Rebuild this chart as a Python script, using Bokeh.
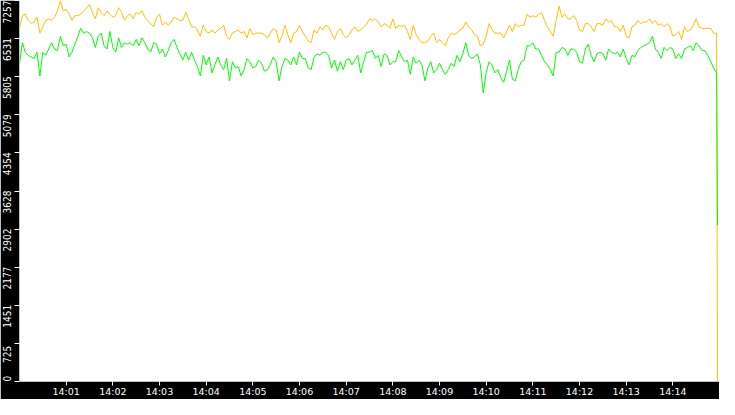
import numpy as np
from datetime import datetime
from bokeh.plotting import figure
from bokeh.models import Range1d, FixedTicker, DatetimeTickFormatter
from bokeh.embed import file_html
from bokeh.resources import INLINE

# ---- data ----
orange_vals = [
    6726, 6968, 6998, 6877, 6817, 6847, 6938, 6635, 6756, 6877, 6907, 6877, 6938, 7059, 7250, 7059, 7089, 6998, 6877, 6968,
    6968, 6998, 7059, 7119, 7180, 7028, 6907, 7119, 7028, 6968, 7059, 6998, 6938, 6968, 7119, 7028, 6877, 6968, 6998, 6907,
    7028, 6998, 7059, 6938, 6877, 6817, 6756, 6938, 6998, 6786, 6847, 6786, 6847, 6938, 6907, 6877, 6877, 7028, 6907, 6756,
    6756, 6696, 6575, 6786, 6666, 6635, 6696, 6635, 6696, 6726, 6786, 6575, 6514, 6635, 6666, 6696, 6635, 6666, 6545, 6726,
    6605, 6635, 6635, 6635, 6605, 6545, 6635, 6726, 6696, 6454, 6575, 6786, 6605, 6454, 6635, 6666, 6786, 6666, 6575, 6484,
    6454, 6696, 6635, 6756, 6696, 6786, 6756, 6635, 6514, 6666, 6726, 6605, 6545, 6605, 6696, 6756, 6666, 6696, 6756, 6805,
    6907, 6877, 6907, 6847, 6756, 6817, 6786, 6726, 6907, 6726, 6786, 6756, 6786, 6666, 6514, 6786, 6605, 6514, 6454, 6454,
    6484, 6575, 6635, 6454, 6514, 6454, 6394, 6545, 6635, 6605, 6635, 6696, 6726, 6847, 6756, 6696, 6605, 6575, 6394, 6424,
    6575, 6817, 6696, 6635, 6635, 6635, 6545, 6666, 6786, 6666, 6817, 6756, 6786, 6786, 6998, 6938, 6968, 6938, 6998, 7028,
    6877, 6756, 6666, 6575, 6877, 7149, 6938, 6998, 6907, 6907, 6968, 6877, 6696, 6666, 6817, 6817, 6756, 6666, 6817, 6817,
    6786, 6907, 6847, 6877, 6756, 6756, 6666, 6786, 6575, 6545, 6756, 6786, 6877, 6817, 6847, 6847, 6907, 6817, 6877, 6786,
    6817, 6756, 6817, 6756, 6575, 6605, 6666, 6514, 6756, 6666, 6696, 6786, 6907, 6756, 6726, 6726, 6726, 6726, 6635, 6635,
    0,
]
green_vals = [
    6061, 6454, 6272, 6212, 6182, 6152, 6272, 5819, 6272, 6212, 6333, 6454, 6333, 6303, 6575, 6394, 6424, 6182, 6272, 6424,
    6575, 6726, 6635, 6666, 6635, 6545, 6363, 6575, 6635, 6394, 6333, 6666, 6363, 6272, 6545, 6363, 6454, 6424, 6454, 6394,
    6514, 6394, 6545, 6454, 6333, 6272, 6454, 6424, 6242, 6333, 6182, 6303, 6454, 6514, 6363, 6242, 6121, 6272, 6121, 6272,
    6121, 6000, 5819, 6212, 6031, 6182, 5879, 6031, 6182, 6031, 5940, 6152, 5728, 6091, 5970, 6000, 5819, 5940, 6152, 6091,
    5970, 6000, 6121, 6061, 5910, 5940, 6031, 6182, 6091, 5728, 6000, 6152, 6121, 6031, 6182, 6031, 6272, 6152, 6152, 5970,
    5940, 6182, 6242, 6212, 6272, 6272, 6212, 5970, 6121, 5910, 6091, 5940, 6121, 6152, 6031, 6121, 6212, 5879, 6091, 6272,
    6272, 6303, 6152, 6212, 6000, 6242, 6212, 6031, 6091, 6091, 6303, 6182, 6091, 6121, 5849, 6182, 6061, 6121, 6031, 5728,
    5970, 6091, 5879, 5940, 6061, 5940, 5849, 5940, 6061, 6000, 6212, 6091, 6242, 6454, 6212, 6152, 6182, 6242, 6031, 5500,
    5879, 6091, 6031, 5879, 5940, 5789, 5698, 5910, 6121, 5758, 5728, 5940, 6091, 6121, 6394, 6394, 6454, 6333, 6333, 6212,
    6091, 6031, 5940, 5819, 6272, 6272, 6363, 6333, 6212, 6333, 6333, 6272, 6091, 6061, 6333, 6424, 6212, 6091, 6242, 6272,
    6242, 6121, 6333, 6272, 6242, 6272, 6182, 6333, 6152, 6031, 6212, 6182, 6303, 6363, 6394, 6424, 6454, 6575, 6333, 6272,
    6152, 6363, 6303, 6363, 6333, 6152, 6242, 6152, 6333, 6363, 6394, 6303, 6454, 6394, 6303, 6303, 6212, 6091, 5970, 5879,
    2975,
]
y_max = 7257
y_tick_labels = ["0", "725", "1451", "2177", "2902", "3628", "4354", "5079", "5805", "6531", "7257"]
x_tick_minutes = list(range(1, 15))

# ---- time axis ----
t0 = datetime(2024, 1, 1, 14, 0, 0).timestamp() * 1000.0
step_ms = 3750.0
n = len(orange_vals) - 1
x_ms = list(t0 + np.arange(n) * step_ms) + [t0 + 897500.0]

W, H = 719, 399
p = figure(width=W, height=H, x_axis_type="datetime", output_backend="svg",
           toolbar_location=None,
           x_range=Range1d(t0, t0 + 15 * 60000.0), y_range=Range1d(0, y_max),
           min_border_left=15, min_border_bottom=16, min_border_top=0, min_border_right=0,
           background_fill_color="white", border_fill_color="black",
           outline_line_color=None)
p.grid.visible = False

p.line(x_ms, orange_vals, line_color="#FFC000", line_width=1)
p.line(x_ms, green_vals, line_color="#00FF00", line_width=1)

# x axis
xa = p.xaxis[0]
xa.ticker = FixedTicker(ticks=[t0 + m * 60000.0 for m in x_tick_minutes])
fmt = "%H:%M"
xa.formatter = DatetimeTickFormatter(milliseconds=fmt, seconds=fmt, minsec=fmt, minutes=fmt,
                                     hourmin=fmt, hours=fmt, days=fmt)
xa.axis_line_color = None
xa.major_tick_line_color = "white"
xa.major_tick_out = 4
xa.major_tick_in = 0
xa.minor_tick_out = 0
xa.minor_tick_in = 0
xa.major_label_text_color = "white"
xa.major_label_text_font = "DejaVu Sans"
xa.major_label_text_font_size = "9.5px"
xa.major_label_standoff = 0

# y axis: labels sit just below each tick mark (ticks drawn as minor ticks)
frame_h = H - 16
upp = y_max / frame_h
y_ticks = [y_max * k / 10 for k in range(11)]
label_pos = [int(round(v - 11 * upp)) if k > 0 else int(round(3 * upp)) for k, v in enumerate(y_ticks)]
ya = p.yaxis[0]
ya.ticker = FixedTicker(ticks=label_pos, minor_ticks=y_ticks)
ya.major_label_overrides = {lp: lab for lp, lab in zip(label_pos, y_tick_labels)}
ya.major_label_orientation = "vertical"
ya.axis_line_color = None
ya.major_tick_out = 0
ya.major_tick_in = 0
ya.major_tick_line_color = None
ya.minor_tick_out = 5
ya.minor_tick_in = 0
ya.minor_tick_line_color = "white"
ya.major_label_text_color = "white"
ya.major_label_text_font = "Liberation Sans Narrow, DejaVu Sans Condensed, sans-serif"
ya.major_label_text_font_size = "10px"
ya.major_label_standoff = 3

open("out.html", "w").write(file_html(p, INLINE))
